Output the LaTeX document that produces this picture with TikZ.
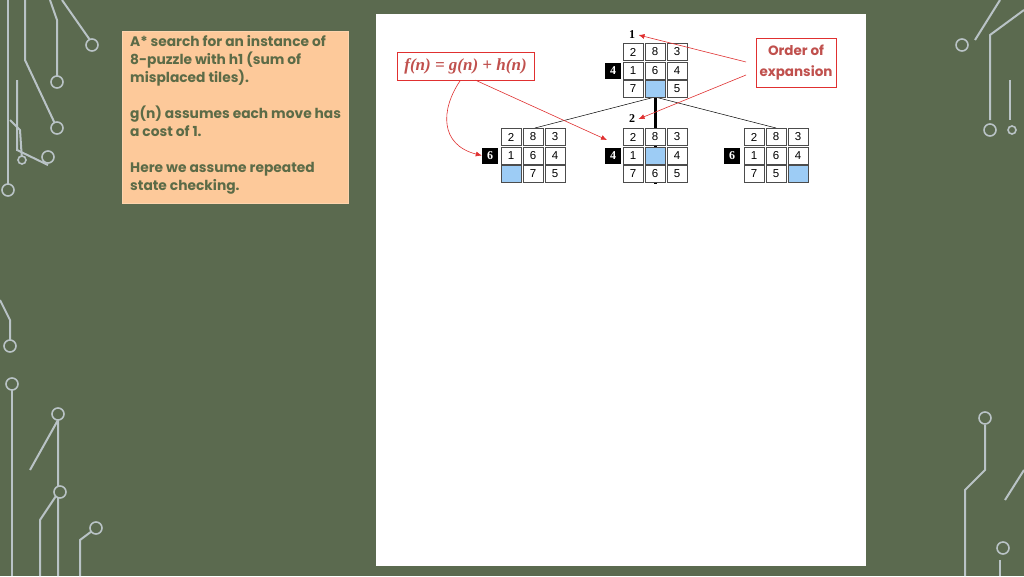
\documentclass[tikz,border=0pt]{standalone}
\usepackage{fontspec}
\setmainfont{Liberation Serif}
\newfontfamily\gothic{Poppins}
\newfontfamily\arial{Liberation Sans}
\usetikzlibrary{arrows.meta}
\definecolor{bg}{HTML}{5B6A4F}
\definecolor{circ}{HTML}{B9C3C6}
\definecolor{peach}{HTML}{FDC99A}
\definecolor{olive}{HTML}{5C6B47}
\definecolor{redl}{HTML}{E03030}
\definecolor{tile}{HTML}{9DCCF5}
\definecolor{brownr}{HTML}{C0504D}
\tikzset{
 cell/.style={draw=black!70,fill=white,minimum width=20pt,minimum height=17pt,inner sep=0pt,font=\arial\fontsize{11.5}{11.5}\selectfont},
 blank/.style={cell,fill=tile},
 fbox/.style={fill=black,text=white,minimum size=16pt,inner sep=0pt,font=\bfseries\fontsize{12}{12}\selectfont},
 ord/.style={font=\bfseries\fontsize{12}{12}\selectfont},
 rarrow/.style={draw=redl,-{Latex[length=6pt,width=5pt]},line width=0.6pt},
 wire/.style={circ,line width=2pt},
 pad/.style={circ,line width=1.6pt,fill=bg}
}
\begin{document}
\begin{tikzpicture}[x=1pt,y=-1pt]
\useasboundingbox (0,0) rectangle (1024,576);
\fill[bg] (0,0) rectangle (1024,576);
% circuit decorations
\draw[wire] (8,0)--(8,190); \draw[pad] (8,190) circle (6);
\draw[wire] (25,0)--(25,60)--(57,128); \draw[pad] (57,128) circle (6);
\draw[wire] (50,0)--(57,20)--(57,82); \draw[pad] (57,82) circle (6);
\draw[wire] (17,80)--(17,150)--(48,165); \draw[pad] (48,157) circle (6);
\draw[wire] (62,0)--(90,40); \draw[pad] (92,45) circle (6);
\draw[wire] (10,120)--(20,130)--(22,160); \draw[pad] (22,160) circle (4);
\draw[wire] (0,300)--(10,320)--(10,340); \draw[pad] (10,346) circle (6);
\draw[wire] (12,390)--(12,576); \draw[pad] (12,384) circle (6);
\draw[wire] (30,470)--(58,420)--(58,576); \draw[pad] (58,414) circle (6);
\draw[wire] (40,576)--(40,520)--(60,490); \draw[pad] (60,492) circle (6);
\draw[wire] (80,576)--(80,540)--(100,525); \draw[pad] (96,528) circle (6);
\draw[wire] (1024,10)--(990,35)--(990,120); \draw[pad] (990,130) circle (6);
\draw[wire] (1000,0)--(975,40); \draw[pad] (962,45) circle (6);
\draw[wire] (1010,80)--(1010,120); \draw[pad] (1012,130) circle (4);
\draw[wire] (985,425)--(985,470)--(965,490)--(965,576); \draw[pad] (985,418) circle (6);
\draw[wire] (1000,560)--(1000,576); \draw[pad] (1003,548) circle (6);
\draw[wire] (1024,470)--(1005,500);
% white panel
\fill[white] (376,14) rectangle (866,566);
% text box
\node[fill=peach,draw=peach!80!white,minimum width=226pt,minimum height=172pt,anchor=north west,inner sep=0pt] (tb) at (122,31) {};
\node[anchor=north west,align=left,text=olive,font=\gothic\bfseries\fontsize{13.8}{18}\selectfont,inner sep=0pt] (tt) at (130,35)
 {A* search for an instance of\\8-puzzle with h1 (sum of\\misplaced tiles).\\[18pt]g(n) assumes each move has\\a cost of 1.\\[18pt]Here we assume repeated\\state checking.};
% edges
\draw[line width=0.5pt] (655,97)--(535,128);
\draw[line width=0.5pt] (655,97)--(776,128);
\draw[line width=3pt] (655,97)--(655,184);
% puzzles
\foreach \nm/\cx/\cy/\a/\b/\c/\d/\e/\f/\g/\h/\i in {
 r/655/70.5/2/8/3/1/6/4/7/x/5,
 l/533/155.5/2/8/3/1/6/4/x/7/5,
 m/655/155.5/2/8/3/1/x/4/7/6/5,
 q/776/155.5/2/8/3/1/6/4/7/5/x}{
 \foreach \v [count=\k from 0] in {\a,\b,\c,\d,\e,\f,\g,\h,\i}{
  \pgfmathtruncatemacro{\col}{mod(\k,3)}
  \pgfmathtruncatemacro{\row}{div(\k,3)}
  \if\v x
   \node[blank] (\nm\k) at ({\cx+22*(\col-1)},{\cy+18.5*(\row-1)}) {};
  \else
   \node[cell] (\nm\k) at ({\cx+22*(\col-1)},{\cy+18.5*(\row-1)}) {\v};
  \fi
 }
}
\node[fbox] (fr) at (613,70.5) {4};
\node[fbox] (fl) at (490,155.5) {6};
\node[fbox] (fm) at (613,155.5) {4};
\node[fbox] (fq) at (732,155.5) {6};
\node[ord] (o1) at (632,35) {1};
\node[ord] (o2) at (632,119) {2};
% callouts
\node[draw=redl,fill=white,minimum width=137pt,minimum height=28pt,inner sep=0pt,text=brownr,font=\itshape\bfseries\fontsize{17}{17}\selectfont] (fn) at (465.5,66) {f(n) = g(n) + h(n)};
\node[draw=redl,fill=white,minimum width=80pt,minimum height=49pt,inner sep=0pt,align=center,text=brownr,font=\gothic\bfseries\fontsize{13.5}{21}\selectfont] (oe) at (796,62.5) {Order of\\expansion};
\draw[rarrow] (746,62) -- (o1.east);
\draw[rarrow] (746,75) -- (o2.east);
\draw[rarrow] (fn.south) ++(-5,0) coordinate (s1) (s1) .. controls (440,110) and (440,145) .. (fl.west);
\draw[rarrow] (fn.south) ++(10,0) coordinate (s2) (s2) -- (607,140);
\end{tikzpicture}
\end{document}
